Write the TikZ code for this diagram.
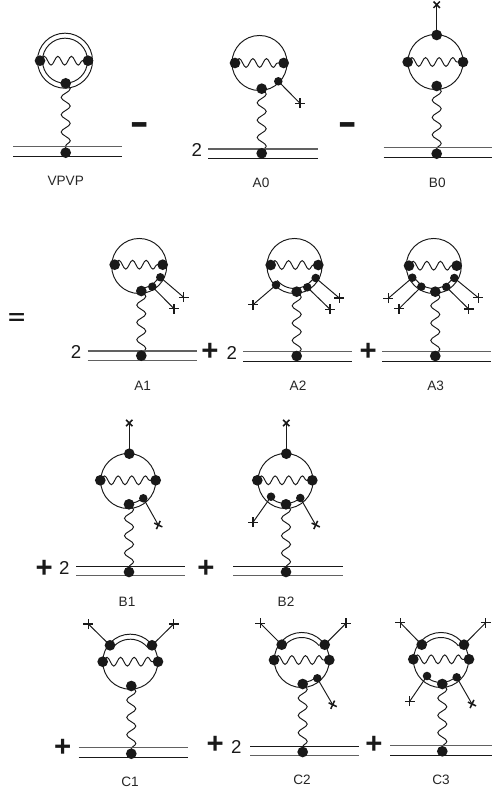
\documentclass[tikz,border=0pt]{standalone}
\usepackage{fontspec}
\setmainfont{Liberation Sans}
\usetikzlibrary{decorations.pathmorphing,shapes.misc}
\pgfdeclarelayer{back}
\pgfsetlayers{back,main}
\tikzset{
  wire/.style={line width=0.72pt,black!90},
  ringline/.style={draw,wire,circle,minimum size=41.3pt,inner sep=0pt,outer sep=0pt},
  bigdot/.style={circle,fill=black!90,minimum size=8pt,inner sep=0pt,outer sep=0pt},
  smalldot/.style={circle,fill=black!90,minimum size=6.4pt,inner sep=0pt,outer sep=0pt},
  railk/.style={line width=0.75pt,black!90},
  railg/.style={line width=0.95pt,black!62},
  photonh/.style={wire,decorate,decoration={snake,amplitude=3.3pt,segment length=10.2pt,post length=0pt,pre length=0pt}},
  photonv/.style={wire,decorate,decoration={snake,amplitude=3.4pt,segment length=13pt,post length=0pt,pre length=0pt}},
  markplus/.style={draw,black!90,line width=1.15pt,cross out,minimum size=5.2pt,inner sep=0pt,outer sep=0pt,rotate=45},
  marktimes/.style={draw,black!90,line width=1.15pt,cross out,minimum size=4.8pt,inner sep=0pt,outer sep=0pt},
  markstar/.style={draw,black!90,line width=1.15pt,cross out,minimum size=4.8pt,inner sep=0pt,outer sep=0pt,rotate=20},
  lab/.style={inner sep=0pt,font=\fontsize{10.2pt}{12pt}\selectfont,black!85},
  coef/.style={inner sep=0pt,font=\fontsize{14pt}{16pt}\selectfont,black!90},
  oper/.style={inner sep=0pt,font=\fontsize{22pt}{24pt}\selectfont\bfseries,black!90},
}
\newcommand{\Under}[1]{\begin{pgfonlayer}{back}#1\end{pgfonlayer}}
\newcommand{\Ring}[3]{\node[ringline] (#1c) at (#2,#3) {};}
\newcommand{\InnerRing}[3]{\node[draw,wire,circle,minimum size=33.8pt,inner sep=0pt] (#1i) at (#2,#3) {};}
\newcommand{\InArc}[3]{\Under{\draw[wire] ([shift={(#2:22.5)}]#1c.center) arc (#2:#3:22.5);}}
\newcommand{\Side}[4]{\node[bigdot] (#1l) at (#2,#4) {};\node[bigdot] (#1r) at (#3,#4) {};\Under{\draw[photonh] (#1l.center) -- (#1r.center);}}
\newcommand{\Prop}[4]{\node[bigdot] (#1b) at (#2,#3) {};\node[bigdot] (#1f) at (#2,#4) {};\Under{\draw[photonv] (#1b.center) -- (#1f.center);}}
\newcommand{\Rails}[7]{\coordinate (#1a) at (#2,#4);\coordinate (#1e) at (#3,#4);\coordinate (#1g) at (#2,#5);\coordinate (#1h) at (#3,#5);
  \Under{\draw[#6] (#1a) -- (#1e);\draw[#7] (#1g) -- (#1h);}}
\newcommand{\Leg}[8]{\node[#2] (#1) at (#3,#4) {};\node[#6] (#5) at (#7,#8) {};\Under{\draw[wire] (#1.center) -- (#5.center);}}
\newcommand{\Dash}{\scalebox{1}[1.6]{–}}
\begin{document}
\begin{tikzpicture}[x=0.75pt,y=-0.75pt]
\useasboundingbox (0,0) rectangle (492,796);
% ---- VPVP
\Ring{P}{65}{60.7}
\InnerRing{P}{65}{60.7}
\Side{P}{40}{88}{60.7}
\Prop{P}{65.7}{83.3}{152.7}
\Rails{P}{13}{122}{146.7}{156.3}{railg}{railk}
\node[lab] (Pt) at (65.7,180.5) {VPVP};
\node[oper] (op1) at (140,130) {\Dash};
% ---- A0
\Ring{Q}{259.5}{63}
\Side{Q}{235}{283.7}{63}
\Prop{Q}{261.7}{88.7}{153.3}
\Rails{Q}{208}{317.7}{149}{158.3}{railg}{railk}
\Leg{Qx}{smalldot}{278.3}{81.3}{Qm}{markplus}{300}{103.3}
\node[coef] (Qn) at (196.7,150) {2};
\node[lab] (Qt) at (261,183.3) {A0};
\node[oper] (op2) at (347.7,130) {\Dash};
% ---- B0
\Ring{R}{435.5}{62}
\Side{R}{407.7}{463}{62}
\Prop{R}{436.7}{86}{153.7}
\Rails{R}{383.7}{492}{147.7}{157.3}{railg}{railk}
\Leg{Rx}{bigdot}{436.7}{35}{Rm}{marktimes}{436.7}{4.7}
\node[lab] (Rt) at (437.3,182.7) {B0};
% ---- equals
\node[oper] (eq) at (16.7,319.3) {\scalebox{1}[0.72]{=}};
% ---- A1
\Ring{S}{139.2}{266}
\InArc{S}{90}{25}
\Side{S}{114.7}{162.7}{264.7}
\Prop{S}{141.3}{291}{355.7}
\Rails{S}{87.7}{196.7}{351}{360.7}{railg}{railg}
\Leg{Sx}{smalldot}{152.3}{286.7}{Sm}{markplus}{174}{308.7}
\Leg{Sy}{smalldot}{160.3}{277.3}{Sn}{markplus}{183.7}{297.3}
\node[coef] (Sk) at (76,352.3) {2};
\node[lab] (St) at (142.7,385.7) {A1};
\node[oper] (op3) at (210,352) {+};
% ---- A2
\node[coef] (Tk) at (231.7,353) {2};
\Ring{T}{294.5}{266}
\InArc{T}{140}{25}
\Side{T}{270.7}{318.3}{265}
\Prop{T}{296.7}{291.7}{356}
\Rails{T}{243.3}{352.3}{351.7}{361.3}{railg}{railk}
\Leg{Tx}{smalldot}{276}{285}{Tm}{markplus}{253}{304.7}
\Leg{Ty}{smalldot}{307.3}{287.3}{Tn}{markplus}{330}{309.3}
\Leg{Tz}{smalldot}{315.7}{278}{To}{markplus}{339.3}{298}
\node[lab] (Tt) at (298,385.7) {A2};
\node[oper] (op4) at (368.3,352) {+};
% ---- A3
\Ring{U}{433.8}{266}
\InArc{U}{155}{25}
\Side{U}{409}{456.7}{265.7}
\Prop{U}{435.3}{291.7}{356}
\Rails{U}{382.3}{491.3}{351.7}{361.3}{railg}{railk}
\Leg{Ux}{smalldot}{412.3}{277.7}{Um}{markplus}{388.3}{298.3}
\Leg{Uy}{smalldot}{421.3}{286.7}{Un}{markplus}{399}{308.7}
\Leg{Uz}{smalldot}{446.3}{287}{Uo}{markplus}{468.7}{309}
\Leg{Uw}{smalldot}{454.3}{278}{Up}{markplus}{478.3}{297.7}
\node[lab] (Ut) at (435.7,385.7) {A3};
% ---- B1
\node[oper] (op5) at (44.3,569) {+};
\node[coef] (Vk) at (64.3,567.7) {2};
\Ring{V}{128.2}{481}
\InArc{V}{90}{45}
\Side{V}{100.3}{155.7}{480.3}
\Prop{V}{129}{504.3}{572}
\Rails{V}{76}{185.3}{566}{575.7}{railk}{railg}
\Leg{Vx}{bigdot}{129.3}{453.7}{Vm}{marktimes}{129.3}{423}
\Leg{Vy}{smalldot}{143.3}{498.3}{Vn}{markstar}{158.3}{525}
\node[lab] (Vt) at (127,601.5) {B1};
% ---- B2
\node[oper] (op6) at (206,569) {+};
\Ring{W}{285.5}{481}
\InArc{W}{135}{45}
\Side{W}{257.3}{312.3}{480.3}
\Prop{W}{286}{504.3}{572}
\Rails{W}{233.3}{342.7}{566}{575.7}{railk}{railg}
\Leg{Wx}{bigdot}{286.3}{453.7}{Wm}{marktimes}{286.3}{423}
\Leg{Wy}{smalldot}{271}{496.7}{Wn}{markplus}{253}{522.3}
\Leg{Wz}{smalldot}{300.3}{498}{Wo}{markstar}{315.7}{525}
\node[lab] (Wt) at (286,601.5) {B2};
% ---- C1
\node[oper] (op7) at (62.7,748) {+};
\Ring{X}{130.3}{661.7}
\InArc{X}{219}{321}
\Side{X}{102.7}{158}{661.7}
\Prop{X}{131.3}{686}{753.7}
\Rails{X}{78.7}{187.7}{747.7}{757.3}{railg}{railk}
\Leg{Xx}{bigdot}{110}{645.3}{Xm}{markplus}{88.3}{624}
\Leg{Xy}{bigdot}{152}{645.3}{Xn}{markplus}{173.7}{624}
\node[lab] (Xt) at (130,781.7) {C1};
% ---- C2
\node[oper] (op8) at (215.3,745) {+};
\node[coef] (Yk) at (236.3,747.3) {2};
\Ring{Y}{301.8}{660}
\InArc{Y}{219}{321}
\InArc{Y}{90}{45}
\Side{Y}{274}{329.3}{660}
\Prop{Y}{302.7}{684}{752}
\Rails{Y}{250}{359.3}{746}{755.7}{railk}{railg}
\Leg{Yx}{bigdot}{281.7}{644.7}{Ym}{markplus}{260.3}{623.3}
\Leg{Yy}{bigdot}{324.7}{644.7}{Yn}{markplus}{346}{623.3}
\Leg{Yz}{smalldot}{317.3}{678.3}{Yo}{markstar}{332.7}{704.7}
\node[lab] (Yt) at (302,780) {C2};
\node[oper] (op9) at (374,744.5) {+};
% ---- C3
\Ring{Z}{441}{660}
\InArc{Z}{219}{321}
\InArc{Z}{135}{45}
\Side{Z}{413.3}{469}{659.3}
\Prop{Z}{442.3}{684}{751.3}
\Rails{Z}{390}{492}{745.3}{755}{railg}{railk}
\Leg{Zx}{bigdot}{421.7}{644.7}{Zm}{markplus}{400.3}{622.7}
\Leg{Zy}{bigdot}{464}{644.7}{Zn}{markplus}{485.7}{622.7}
\Leg{Zz}{smalldot}{427}{676}{Zo}{markplus}{409.7}{701.3}
\Leg{Zw}{smalldot}{456.7}{677.3}{Zp}{markstar}{472}{704}
\node[lab] (Zt) at (441,780) {C3};
\end{tikzpicture}
\end{document}
